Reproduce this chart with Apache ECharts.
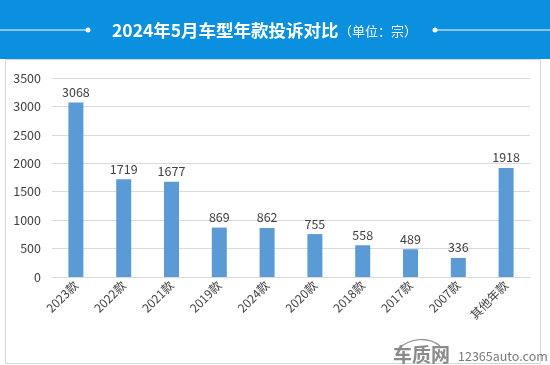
<!DOCTYPE html>
<html><head><meta charset="utf-8">
<script src="https://cdn.jsdelivr.net/npm/echarts@6/dist/echarts.min.js"></script>
<style>html,body{margin:0;padding:0;background:#fff}#c{width:550px;height:365px}</style>
</head><body><div id="c"></div>
<script>
const categories = ['2023款','2022款','2021款','2019款','2024款','2020款','2018款','2017款','2007款','其他年款'];
const values = [3068,1719,1677,869,862,755,558,489,336,1918];
const yTicks = [0,500,1000,1500,2000,2500,3000,3500];
const titleText = '2024年5月车型年款投诉对比';
const unitText = '（单位：宗）';
const chart = echarts.init(document.getElementById('c'), null, {renderer:'canvas'});
const F = '"Microsoft YaHei","Noto Sans CJK SC","Noto Sans",sans-serif';
chart.setOption({
  animation:false,
  grid:{left:52,right:20,top:78,bottom:88,containLabel:false},
  xAxis:{type:'category',data:categories,
    axisLine:{lineStyle:{color:'#d9d9d9'}},axisTick:{show:false},
    axisLabel:{rotate:45,color:'#404040',fontSize:12,fontFamily:F,interval:0,margin:6}},
  yAxis:{type:'value',min:yTicks[0],max:yTicks[yTicks.length-1],interval:500,
    axisLine:{show:false},axisTick:{show:false},
    splitLine:{lineStyle:{color:'#d9d9d9'}},
    axisLabel:{color:'#404040',fontSize:12.5,fontFamily:F,margin:11,formatter:v=>String(v)}},
  series:[{type:'bar',data:values,barWidth:15,itemStyle:{color:'#5B9BD5'},
    label:{show:true,position:'top',color:'#404040',fontSize:12.5,fontFamily:F,distance:4}}],
  graphic:[
    {type:'rect',shape:{x:5.5,y:59.5,width:535,height:304},style:{fill:'none',stroke:'#d6d6d6',lineWidth:1},z:-1},
    {type:'rect',shape:{x:0,y:0,width:550,height:59},style:{fill:'#0B8FDF'},z:-1},
    {type:'line',shape:{x1:0,y1:30,x2:88,y2:30},style:{stroke:'#fff',lineWidth:1}},
    {type:'circle',shape:{cx:88,cy:30,r:2.5},style:{fill:'#fff'}},
    {type:'line',shape:{x1:435,y1:30,x2:550,y2:30},style:{stroke:'#fff',lineWidth:1}},
    {type:'circle',shape:{cx:435,cy:30,r:2.5},style:{fill:'#fff'}},
    {type:'text',x:112,y:30,style:{text:titleText,fill:'#fff',font:'bold 17.5px '+F,textVerticalAlign:'middle'}},
    {type:'text',x:339,y:31,style:{text:unitText,fill:'#fff',font:'13px '+F,textVerticalAlign:'middle'}},
    {type:'bezierCurve',shape:{x1:398,y1:349,x2:440,y2:346,cpx1:410,cpy1:338,cpx2:428,cpy2:336},style:{stroke:'#9a9a9a',lineWidth:1.5,fill:'none'}},
    {type:'text',x:393,y:355,style:{text:'车质网',fill:'#8a8a8a',font:'bold 19px '+F,textVerticalAlign:'middle'}},
    {type:'text',x:458,y:356,style:{text:'12365auto.com',fill:'#7a7a7a',font:'12.5px '+F,textVerticalAlign:'middle'}}
  ]
});
</script></body></html>
